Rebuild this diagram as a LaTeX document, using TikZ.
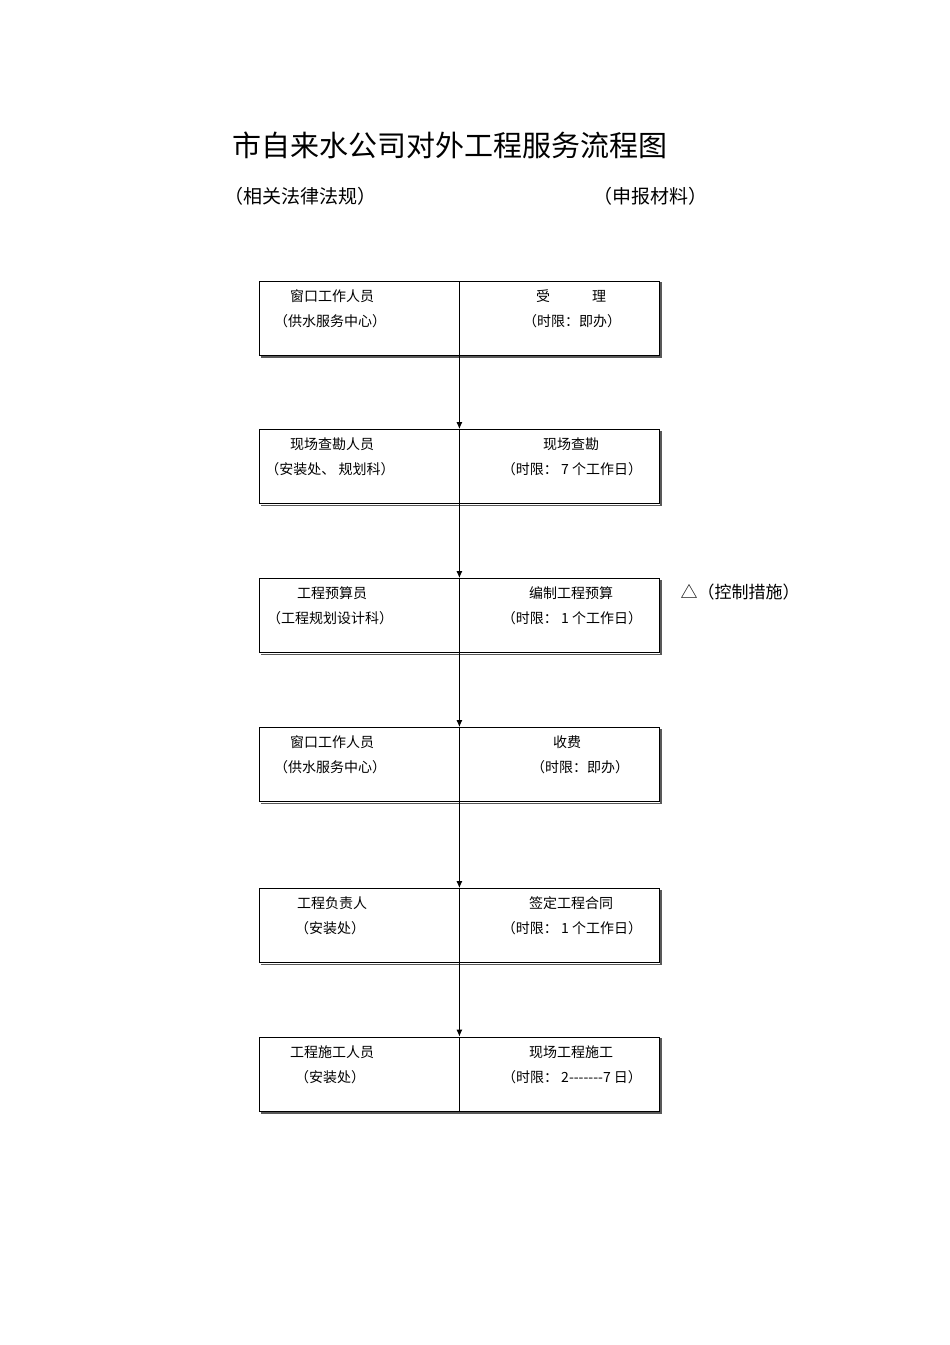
\documentclass[tikz,border=0pt]{standalone}
\usepackage{fontspec}
\newfontfamily\cjk{Noto Sans CJK SC}
\begin{document}
\begin{tikzpicture}[x=1pt,y=-1pt,
  bx/.style={draw,line width=0.8pt,minimum width=200pt,minimum height=74pt,inner sep=0pt},
  tx/.style={font=\cjk\fontsize{14}{16}\selectfont,inner sep=0pt,anchor=center},
  arr/.style={-{Latex[length=7pt,width=6pt]},line width=1pt}]
\usetikzlibrary{arrows.meta}
\path[use as bounding box,fill=white] (0,0) rectangle (950,1345);
\node[font=\cjk\fontsize{29}{32}\selectfont,inner sep=0pt] (title) at (450,145) {市自来水公司对外工程服务流程图};
\node[font=\cjk\fontsize{19}{22}\selectfont,inner sep=0pt] (law) at (300,196) {（相关法律法规）};
\node[font=\cjk\fontsize{19}{22}\selectfont,inner sep=0pt] (mat) at (650,196) {（申报材料）};
\node[font=\cjk\fontsize{17}{20}\selectfont,inner sep=0pt] (ctl) at (740,592) {△（控制措施）};
\foreach \i/\y/\la/\lb/\ra/\rb in {
 1/318/窗口工作人员/（供水服务中心）/受\hspace{3em}理/（时限：即办）,
 2/466.5/现场查勘人员/（安装处、\ 规划科）/现场查勘/（时限：\ 7 个工作日）,
 3/615.5/工程预算员/（工程规划设计科）/编制工程预算/（时限：\ 1 个工作日）,
 4/764.5/窗口工作人员/（供水服务中心）/{},
 5/925.5/工程负责人/（安装处）/签定工程合同/（时限：\ 1 个工作日）,
 6/1074/工程施工人员/（安装处）/现场工程施工/（时限：\ 2-------7 日）}{
  \draw[line width=1.6pt,gray!70!black] (261,\y-35) -- (661,\y-35) -- (661,\y+39) -- (261,\y+39);
  \node[bx,fill=white] (L\i) at (359,\y) {};
  \node[bx,fill=white] (R\i) at (559,\y) {};
  \node[tx] (la\i) at (332,\y-22) {\la};
  \node[tx] (lb\i) at (330,\y+3) {\lb};
  \node[tx] (ra\i) at (571,\y-22) {\ra};
  \node[tx] (rb\i) at (572,\y+3) {\rb};
}
\node[tx] (ra4b) at (567,742) {收费};
\node[tx] (rb4b) at (580,767) {（时限：即办）};
\foreach \a/\b in {1/2,2/3,3/4,4/5,5/6}{
  \draw[arr] (L\a.south east) -- (L\b.north east);
}
\end{tikzpicture}
\end{document}
